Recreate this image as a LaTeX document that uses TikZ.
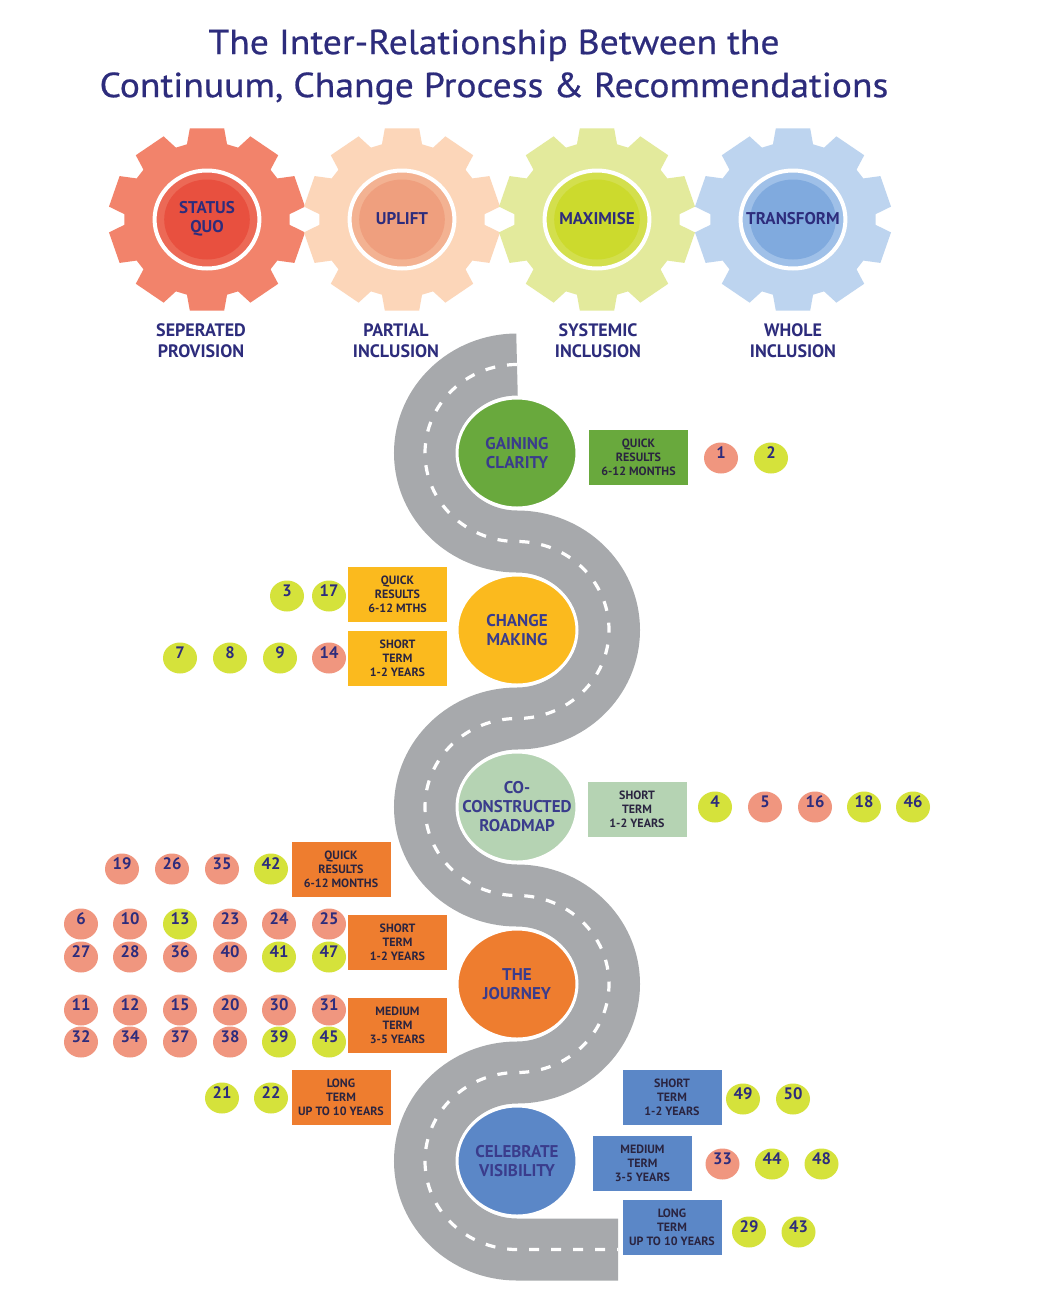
\documentclass[tikz,border=0pt]{standalone}
\usepackage{fontspec}
\setmainfont{PT Sans}
\newfontfamily\titlefont{PT Sans}[FakeStretch=1.08, FakeBold=0.6]
\usetikzlibrary{shapes.geometric}
\definecolor{navy}{HTML}{2D2C7C}
\definecolor{stagetxt}{HTML}{3A3C8C}
\definecolor{boxtxt}{HTML}{2A2440}
\definecolor{roadgrey}{HTML}{A7A9AC}
\definecolor{numsalm}{HTML}{F0967F}
\definecolor{numlime}{HTML}{D5E23B}
\definecolor{cgreen}{HTML}{69A93D}
\definecolor{camber}{HTML}{FBBA1E}
\definecolor{cpale}{HTML}{B5D3B3}
\definecolor{corange}{HTML}{EE7D2F}
\definecolor{cblue}{HTML}{5B87C7}
\definecolor{gAo}{HTML}{F2836B}\definecolor{gAm}{HTML}{EC6956}\definecolor{gAi}{HTML}{E8503F}
\definecolor{gBo}{HTML}{FCD6B9}\definecolor{gBm}{HTML}{F3B292}\definecolor{gBi}{HTML}{EF9F7E}
\definecolor{gCo}{HTML}{E3EA9C}\definecolor{gCm}{HTML}{D3DF4D}\definecolor{gCi}{HTML}{CCDA2D}
\definecolor{gDo}{HTML}{BDD4EF}\definecolor{gDm}{HTML}{9FC0E8}\definecolor{gDi}{HTML}{80AADE}
\newcommand{\mygear}[5]{%
  \begin{scope}[shift={(#1,#2)}, xscale=1.07]
    \fill[#3] (76:77.5) -- (80:92.5) -- (100:92.5) -- (104:77.5)
      \foreach \i in {1,...,9} { -- ({76+36*\i}:77.5) -- ({80+36*\i}:92.5) -- ({100+36*\i}:92.5) -- ({104+36*\i}:77.5) } -- cycle;
    \draw[white, line width=2pt, fill=#4] (0,0) circle (49);
    \fill[#5] (0,0) circle (40);
  \end{scope}}
\begin{document}
\begin{tikzpicture}[x=0.5pt, y=-0.5pt,
  geartext/.style={align=center, text=navy, font=\bfseries\fontsize{8.5}{9.5}\selectfont, inner sep=0},
  gearlabel/.style={align=center, text=navy, font=\bfseries\fontsize{9}{10.5}\selectfont, inner sep=0},
  stage/.style={ellipse, minimum width=60pt, minimum height=55pt, draw=white, line width=1.5pt, inner sep=0},
  stagetext/.style={align=center, text=stagetxt, font=\bfseries\fontsize{8.5}{9.5}\selectfont, inner sep=0},
  tbox/.style={rectangle, minimum width=49.5pt, minimum height=27.5pt, inner sep=0, align=center, text=boxtxt, font=\bfseries\fontsize{6}{7}\selectfont},
  numc/.style={ellipse, minimum width=17pt, minimum height=15.5pt, inner sep=0, text=navy, font=\bfseries\fontsize{8.3}{8.3}\selectfont, text height=3pt, text depth=3pt},
  ns/.style={numc, fill=numsalm},
  nl/.style={numc, fill=numlime}]
\fill[white] (0,0) rectangle (1044,1302);
\useasboundingbox (0,0) rectangle (1044,1302);

% title
\node[align=center, text=navy, font=\titlefont\fontsize{17.4}{21.5}\selectfont, inner sep=0] (title) at (494,67)
  {The Inter-Relationship Between the\\Continuum, Change Process \& Recommendations};

% gears
\mygear{207}{219.5}{gAo}{gAm}{gAi}
\mygear{402}{219.5}{gBo}{gBm}{gBi}
\mygear{597}{219.5}{gCo}{gCm}{gCi}
\mygear{793}{219.5}{gDo}{gDm}{gDi}
\node[geartext] (g1) at (207,219) {STATUS\\QUO};
\node[geartext] (g2) at (402,219) {UPLIFT};
\node[geartext] (g3) at (597,219) {MAXIMISE};
\node[geartext] (g4) at (793,219) {TRANSFORM};
\node[gearlabel] (l1) at (201,341) {SEPERATED\\PROVISION};
\node[gearlabel] (l2) at (396,341) {PARTIAL\\INCLUSION};
\node[gearlabel] (l3) at (598,341) {SYSTEMIC\\INCLUSION};
\node[gearlabel] (l4) at (793,341) {WHOLE\\INCLUSION};

% road
\draw[roadgrey, line width=31pt,
  postaction={draw=white, line width=1.6pt, dash pattern=on 5pt off 6pt}]
  (517,364.5) arc[start angle=270, end angle=90, x radius=92, y radius=88.5]
  arc[start angle=-90, end angle=90, x radius=92, y radius=88.5]
  arc[start angle=270, end angle=90, x radius=92, y radius=88.5]
  arc[start angle=-90, end angle=90, x radius=92, y radius=88.5]
  arc[start angle=270, end angle=90, x radius=92, y radius=88.5]
  -- (618,1249.5);

% stages
\node[stage, fill=cgreen] (s1) at (517,453) {};
\node[stage, fill=camber] (s2) at (517,630) {};
\node[stage, fill=cpale] (s3) at (517,807) {};
\node[stage, fill=corange] (s4) at (517,984) {};
\node[stage, fill=cblue] (s5) at (517,1161) {};
\node[stagetext] (t1) at (s1.center) {GAINING\\CLARITY};
\node[stagetext] (t2) at (s2.center) {CHANGE\\MAKING};
\node[stagetext] (t3) at (s3.center) {CO-\\CONSTRUCTED\\ROADMAP};
\node[stagetext] (t4) at (s4.center) {THE\\JOURNEY};
\node[stagetext] (t5) at (s5.center) {CELEBRATE\\VISIBILITY};

% boxes
\node[tbox, fill=cgreen] (b1) at (638.5,457.5) {QUICK\\RESULTS\\6-12 MONTHS};
\node[tbox, fill=camber] (b2) at (397.5,594.5) {QUICK\\RESULTS\\6-12 MTHS};
\node[tbox, fill=camber] (b3) at (397.5,658) {SHORT\\TERM\\1-2 YEARS};
\node[tbox, fill=cpale] (b4) at (637,809) {SHORT\\TERM\\1-2 YEARS};
\node[tbox, fill=corange] (b5) at (341,869) {QUICK\\RESULTS\\6-12 MONTHS};
\node[tbox, fill=corange] (b6) at (397.5,942) {SHORT\\TERM\\1-2 YEARS};
\node[tbox, fill=corange] (b7) at (397.5,1025) {MEDIUM\\TERM\\3-5 YEARS};
\node[tbox, fill=corange] (b8) at (341,1097.5) {LONG\\TERM\\UP TO 10 YEARS};
\node[tbox, fill=cblue] (b9) at (672,1097) {SHORT\\TERM\\1-2 YEARS};
\node[tbox, fill=cblue] (b10) at (642.5,1163) {MEDIUM\\TERM\\3-5 YEARS};
\node[tbox, fill=cblue] (b11) at (672,1227.5) {LONG\\TERM\\UP TO 10 YEARS};

% numbers: gaining clarity
\node[ns] (n1) at (721,458) {1};
\node[nl] (n2) at (771,458) {2};
% change making
\node[nl] (n3) at (287,596) {3};
\node[nl] (n17) at (329,596) {17};
\node[nl] (n7) at (180,658) {7};
\node[nl] (n8) at (230,658) {8};
\node[nl] (n9) at (280,658) {9};
\node[ns] (n14) at (329,658) {14};
% roadmap
\node[nl] (n4) at (715,807) {4};
\node[ns] (n5) at (765,807) {5};
\node[ns] (n16) at (815,807) {16};
\node[nl] (n18) at (864,807) {18};
\node[nl] (n46) at (913,807) {46};
% journey quick
\node[ns] (n19) at (122,869) {19};
\node[ns] (n26) at (172,869) {26};
\node[ns] (n35) at (222,869) {35};
\node[nl] (n42) at (271,869) {42};
% journey short
\node[ns] (n6) at (81,924) {6};
\node[ns] (n10) at (130,924) {10};
\node[nl] (n13) at (180,924) {13};
\node[ns] (n23) at (230,924) {23};
\node[ns] (n24) at (279,924) {24};
\node[ns] (n25) at (329,924) {25};
\node[ns] (n27) at (81,957) {27};
\node[ns] (n28) at (130,957) {28};
\node[ns] (n36) at (180,957) {36};
\node[ns] (n40) at (230,957) {40};
\node[nl] (n41) at (279,957) {41};
\node[nl] (n47) at (329,957) {47};
% journey medium
\node[ns] (n11) at (81,1010) {11};
\node[ns] (n12) at (130,1010) {12};
\node[ns] (n15) at (180,1010) {15};
\node[ns] (n20) at (230,1010) {20};
\node[ns] (n30) at (279,1010) {30};
\node[ns] (n31) at (329,1010) {31};
\node[ns] (n32) at (81,1042) {32};
\node[ns] (n34) at (130,1042) {34};
\node[ns] (n37) at (180,1042) {37};
\node[ns] (n38) at (230,1042) {38};
\node[nl] (n39) at (279,1042) {39};
\node[nl] (n45) at (329,1042) {45};
% journey long
\node[nl] (n21) at (222,1098) {21};
\node[nl] (n22) at (271,1098) {22};
% celebrate visibility
\node[nl] (n49) at (743,1099) {49};
\node[nl] (n50) at (793,1099) {50};
\node[ns] (n33) at (722.5,1164) {33};
\node[nl] (n44) at (772,1164) {44};
\node[nl] (n48) at (821.5,1164) {48};
\node[nl] (n29) at (749,1232) {29};
\node[nl] (n43) at (798.5,1232) {43};
\end{tikzpicture}
\end{document}
